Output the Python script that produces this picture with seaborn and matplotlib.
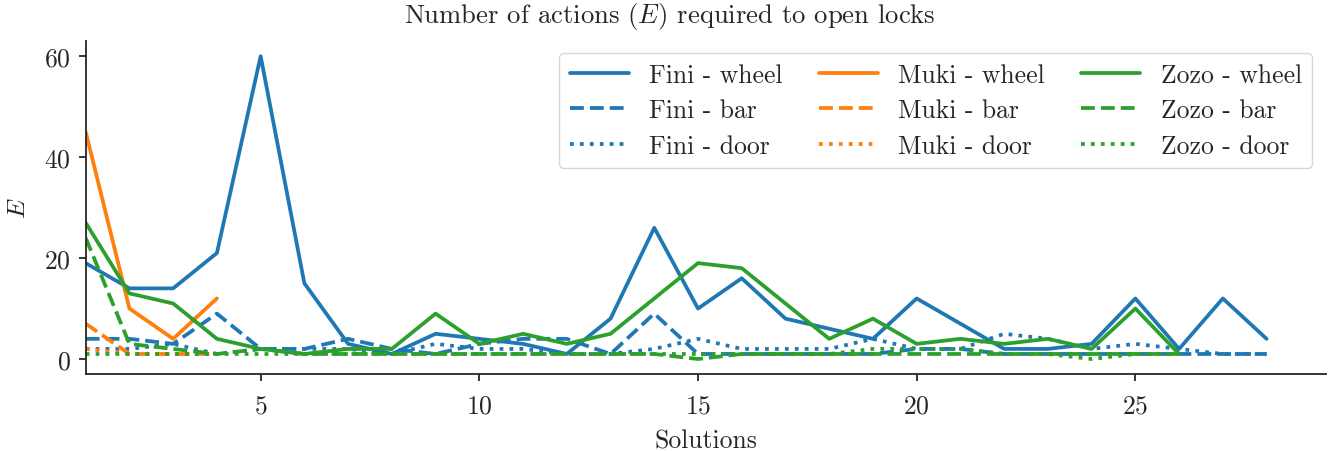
import matplotlib
matplotlib.use("Agg")
import matplotlib.pyplot as plt
import pandas as pd
import seaborn as sns

# === data ===
fini_wheel = [19, 14, 14, 21, 60, 15, 3, 1, 5, 4, 3, 1, 8, 26, 10, 16, 8, 6, 4, 12, 7, 2, 2, 3, 12, 2, 12, 4]
fini_bar = [4, 4, 3, 9, 2, 2, 4, 2, 1, 3, 4, 4, 1, 9, 1, 1, 1, 1, 1, 2, 2, 1, 1, 1, 1, 1, 1, 1]
fini_door = [2, 2, 3, 1, 2, 2, 2, 1, 3, 2, 2, 1, 1, 2, 4, 2, 2, 2, 4, 2, 2, 5, 4, 2, 3, 2, 1, 1]
muki_wheel = [45, 10, 4, 12]
muki_bar = [7, 1, 1, 1]
muki_door = [2, 1, 1, 1]
zozo_wheel = [27, 13, 11, 4, 2, 1, 2, 2, 9, 3, 5, 3, 5, 12, 19, 18, 11, 4, 8, 3, 4, 3, 4, 2, 10, 1]
zozo_bar = [24, 3, 2, 1, 2, 1, 1, 1, 1, 1, 1, 1, 1, 1, 0, 1, 1, 1, 1, 1, 1, 1, 1, 1, 1, 1]
zozo_door = [1, 1, 1, 1, 1, 1, 1, 1, 1, 1, 1, 1, 1, 1, 1, 1, 1, 1, 2, 2, 2, 1, 1, 0, 1, 1]

robots = ["Fini", "Muki", "Zozo"]
locks = ["wheel", "bar", "door"]
series = {
    ("Fini", "wheel"): fini_wheel, ("Fini", "bar"): fini_bar, ("Fini", "door"): fini_door,
    ("Muki", "wheel"): muki_wheel, ("Muki", "bar"): muki_bar, ("Muki", "door"): muki_door,
    ("Zozo", "wheel"): zozo_wheel, ("Zozo", "bar"): zozo_bar, ("Zozo", "door"): zozo_door,
}

rows = []
for (robot, lock), vals in series.items():
    for i, v in enumerate(vals):
        rows.append({"Solutions": i + 1, "E": v, "robot": robot, "lock": lock})
df = pd.DataFrame(rows)

# === style ===
sns.set_theme(style="ticks")
plt.rcParams["font.family"] = "serif"
plt.rcParams["font.serif"] = ["cmr10", "DejaVu Serif"]
plt.rcParams["mathtext.fontset"] = "cm"
plt.rcParams["axes.formatter.use_mathtext"] = True
plt.rcParams["axes.unicode_minus"] = False

colors = {"Fini": "#1f77b4", "Muki": "#ff7f0e", "Zozo": "#2ca02c"}
styles = {"wheel": "-", "bar": "--", "door": ":"}

fig, ax = plt.subplots(figsize=(13.39, 4.52), dpi=100)

for robot in robots:
    for lock in locks:
        sub = df[(df["robot"] == robot) & (df["lock"] == lock)]
        sns.lineplot(data=sub, x="Solutions", y="E", color=colors[robot],
                     linestyle=styles[lock], linewidth=2.7,
                     label=f"{robot} - {lock}", ax=ax)

ax.set_xlim(left=1)
ax.set_yticks([0, 20, 40, 60])
# title is centred on the figure, not on the axes
fig.suptitle("Number of actions ($E$) required to open locks", fontsize=19.2,
             y=1 - 16 / 452, va="center")
ax.set_xlabel("Solutions", fontsize=18.5, labelpad=8)
ax.set_ylabel("$E$", fontsize=18.5, labelpad=10)
ax.tick_params(labelsize=18.5, width=1.3, length=5)
ax.tick_params(axis="x", pad=9)
ax.tick_params(axis="y", pad=6)
for s in ax.spines.values():
    s.set_linewidth(1.3)
ax.legend(ncol=3, loc="upper right", fontsize=18.5, handlelength=2.3,
          columnspacing=1.4, labelspacing=0.45, frameon=True,
          borderaxespad=0, bbox_to_anchor=(1312 / 1339, 1 - 54 / 452),
          bbox_transform=fig.transFigure)
sns.despine(ax=ax)

fig.subplots_adjust(left=0.064, right=0.99, top=0.907, bottom=0.17)
fig.savefig("out.png", dpi=100)
plt.close(fig)
